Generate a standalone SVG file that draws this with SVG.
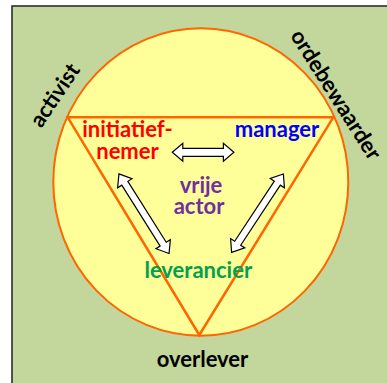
<svg xmlns="http://www.w3.org/2000/svg" width="387" height="383" viewBox="0 0 387 383">
<style>
text{font-family:Lato,"Open Sans","Liberation Sans",sans-serif;font-weight:bold;font-size:22px;text-anchor:middle}
.arrow{fill:#ffffff;stroke:#000000;stroke-width:1.2;stroke-linejoin:miter}
.edge{fill:none;stroke:#FF6600;stroke-width:2.5;stroke-linejoin:miter}
</style>
<rect x="12" y="6" width="380" height="382" fill="#C3D69B" stroke="#222222" stroke-width="1.5"/>
<ellipse cx="200.8" cy="182" rx="147.5" ry="153.7" fill="#FFFF99" stroke="#FF6600" stroke-width="2"/>
<polygon class="edge" points="67.7,117.3 333.3,117.3 199.3,335"/>
<g id="connectors">
<path class="arrow" transform="translate(203.1,152.3)" d="M-30.8,0 L-20.3,-9 L-20.3,-4 L20.3,-4 L20.3,-9 L30.8,0 L20.3,9 L20.3,4 L-20.3,4 L-20.3,9 Z"/>
<path class="arrow" transform="translate(144,213.7) rotate(57.8)" d="M-47,0 L-36,-8.5 L-36,-3.6 L36,-3.6 L36,-8.5 L47,0 L36,8.5 L36,3.6 L-36,3.6 L-36,8.5 Z"/>
<path class="arrow" transform="translate(257.5,213.2) rotate(123.4)" d="M-47,0 L-36,-8.5 L-36,-3.6 L36,-3.6 L36,-8.5 L47,0 L36,8.5 L36,3.6 L-36,3.6 L-36,8.5 Z"/>
</g>
<g id="initiatiefnemer"><text x="127.5" y="136.7" fill="#FF0000">initiatief-</text><text x="127.5" y="158.7" fill="#FF0000">nemer</text></g>
<g id="manager"><text x="277" y="136.7" fill="#0000FF">manager</text></g>
<g id="vrije-actor"><text x="201" y="193.3" fill="#7030A0">vrije</text><text x="199" y="214.3" fill="#7030A0">actor</text></g>
<g id="leverancier"><text x="198.3" y="278.3" fill="#00A04C">leverancier</text></g>
<g id="overlever"><text x="202.5" y="366.7" fill="#000000">overlever</text></g>
<g id="activist"><text transform="translate(61,99.4) rotate(-56)" fill="#000000">activist</text></g>
<g id="ordebewaarder"><text transform="translate(329.6,98.7) rotate(57.6)" fill="#000000">ordebewaarder</text></g>
</svg>
